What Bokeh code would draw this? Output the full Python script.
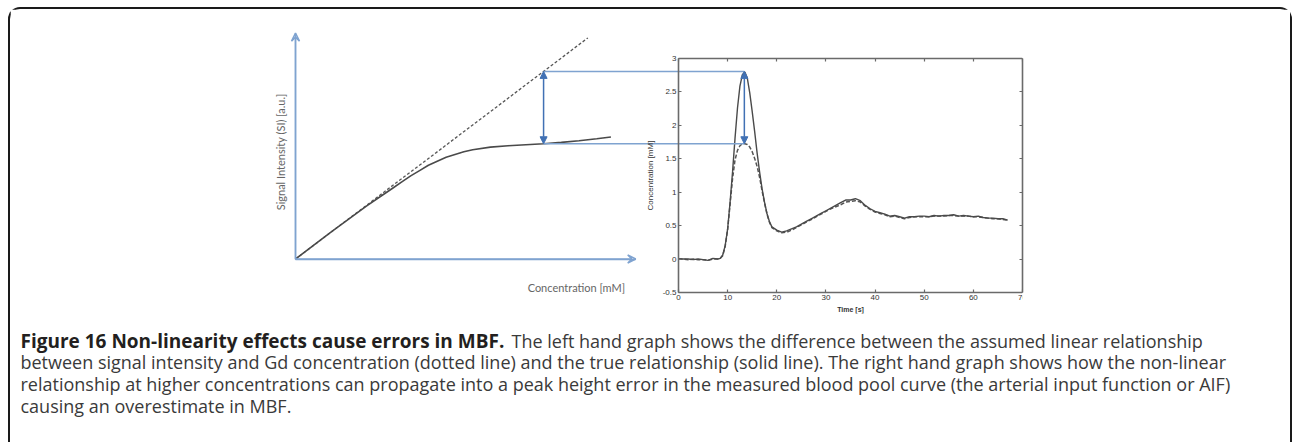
import math
from bokeh.plotting import figure
from bokeh.models import Range1d, LinearAxis, FixedTicker, Arrow, VeeHead, NormalHead
from bokeh.layouts import column
from bokeh.embed import file_html
from bokeh.resources import INLINE
from bokeh.core.properties import value

# ---------------- data ----------------
# Left schematic: signal intensity (in apparent-concentration units) vs true concentration
linear_conc = [0.0, 3.30]
linear_si = [0.0, 3.30]
true_conc = [0.0, 0.4, 0.8, 1.0, 1.1, 1.2, 1.3, 1.4, 1.5, 1.6, 1.7, 1.8, 1.9, 2.0,
             2.2, 2.4, 2.6, 2.8, 3.0, 3.2, 3.4, 3.56]
true_si = [0.0, 0.40, 0.79, 0.97, 1.06, 1.15, 1.24, 1.32, 1.40, 1.46, 1.52, 1.56, 1.60, 1.63,
           1.67, 1.69, 1.705, 1.72, 1.74, 1.765, 1.795, 1.82]

peak_true = 2.80   # true AIF peak [mM]
peak_meas = 1.72   # measured (saturated) AIF peak [mM]
peak_time = 13.4   # s

# Right graph: AIF, true (solid) and measured (dashed)
time_s = [0, 1, 2, 3, 4, 5, 6, 7, 8,
          8.5, 9, 9.5, 10, 10.5, 11, 11.5, 12, 12.5, 13, 13.5, 14, 14.5, 15, 15.5,
          16, 16.5, 17, 17.5, 18, 18.5, 19,
          20, 21, 22, 23, 24, 25, 26, 27, 28, 29, 30, 31, 32, 33, 34, 35, 36, 37, 38, 39,
          40, 41, 42, 43, 44, 45, 46, 47, 48, 49, 50, 51, 52, 53, 54, 55, 56, 57, 58, 59,
          60, 61, 62, 63, 64, 65, 66, 67]
conc_true_curve = [0.00, 0.00, 0.00, -0.01, 0.00, -0.01, -0.02, 0.01, 0.00,
                   0.01, 0.06, 0.20, 0.45, 0.85, 1.30, 1.80, 2.25, 2.58, 2.75, 2.79, 2.70, 2.48, 2.20, 1.90,
                   1.58, 1.30, 1.05, 0.85, 0.68, 0.56, 0.48,
                   0.43, 0.40, 0.42, 0.45, 0.48, 0.52, 0.56, 0.60, 0.64, 0.68, 0.72, 0.76, 0.80, 0.84, 0.88, 0.88, 0.90, 0.87, 0.80, 0.75,
                   0.71, 0.69, 0.67, 0.64, 0.65, 0.63, 0.61, 0.63, 0.63, 0.64, 0.64, 0.63, 0.65, 0.64, 0.65, 0.65, 0.66, 0.64, 0.65, 0.64,
                   0.63, 0.64, 0.62, 0.61, 0.61, 0.60, 0.60, 0.58]
conc_meas_curve = [0.00, 0.00, -0.01, 0.00, -0.01, -0.01, -0.02, 0.00, 0.00,
                   0.01, 0.05, 0.19, 0.44, 0.82, 1.20, 1.48, 1.62, 1.69, 1.72, 1.72, 1.71, 1.67, 1.60, 1.50,
                   1.38, 1.22, 1.02, 0.84, 0.67, 0.55, 0.47,
                   0.42, 0.39, 0.40, 0.43, 0.47, 0.51, 0.55, 0.59, 0.63, 0.67, 0.71, 0.75, 0.78, 0.81, 0.85, 0.86, 0.87, 0.85, 0.79, 0.74,
                   0.70, 0.68, 0.66, 0.63, 0.64, 0.62, 0.60, 0.62, 0.63, 0.63, 0.63, 0.63, 0.64, 0.64, 0.64, 0.65, 0.65, 0.64, 0.64, 0.64,
                   0.63, 0.63, 0.62, 0.61, 0.60, 0.60, 0.59, 0.58]

x_ticks = [0, 10, 20, 30, 40, 50, 60, 70]
x_tick_labels = ["0", "10", "20", "30", "40", "50", "60", "70"]
y_ticks = [-0.5, 0, 0.5, 1, 1.5, 2, 2.5, 3]
y_tick_labels = ["-0.5", "0", "0.5", "1", "1.5", "2", "2.5", "3"]

left_y_label = "Signal Intensity (SI) [a.u.]"
left_x_label = "Concentration [mM]"
right_y_label = "Concentration [mM]"
right_x_label = "Time [s]"

caption_bold = "Figure 16 Non-linearity effects cause errors in MBF."
caption_lines = [
    "The left hand graph shows the difference between the assumed linear relationship",
    "between signal intensity and Gd concentration (dotted line) and the true relationship (solid line). The right hand graph shows how the non-linear",
    "relationship at higher concentrations can propagate into a peak height error in the measured blood pool curve (the arterial input function or AIF)",
    "causing an overestimate in MBF.",
]

# ---------------- styles / layout ----------------
BLUE = "#7fa3d0"
BLUE_DARK = "#4171b4"
CURVE = "#4a4a4a"
BOX = "#6a6a6a"
TICK_FONT = "Liberation Sans"
SCHEME_FONT = "Lato"
CAP_FONT = "Open Sans"

PAGE_X0, PAGE_Y0 = 10, 9            # content origin inside the rounded box
CONTENT_W, CONTENT_H = 1280, 433
FRAME_L, FRAME_R, FRAME_T, FRAME_B = 262, 1022, 24, 313
BOX_L = 678                          # t = 0 of right graph
Y0_PX, PX_PER_Y = 258.5, 67.0        # y = 0 line and scale (shared by both graphs)
C0_PX, PX_PER_C = 295.0, 88.6        # concentration origin of left graph

ML = FRAME_L - PAGE_X0
MR = PAGE_X0 + CONTENT_W - FRAME_R
MT = FRAME_T - PAGE_Y0
MB = 12
FW, FH = FRAME_R - FRAME_L, FRAME_B - FRAME_T
MAIN_H = MT + FH + MB
CAP_H = CONTENT_H - MAIN_H

t_per_px = (x_ticks[-1] - x_ticks[0]) / (FRAME_R - BOX_L)
T_RANGE = (-(BOX_L - FRAME_L) * t_per_px, x_ticks[-1])
C_RANGE = ((FRAME_L - C0_PX) / PX_PER_C, (FRAME_R - C0_PX) / PX_PER_C)
Y_RANGE = ((Y0_PX - FRAME_B) / PX_PER_Y, (Y0_PX - FRAME_T) / PX_PER_Y)
SI_AXIS_END = 3.37
C_AXIS_END = 3.84

p = figure(frame_width=FW, frame_height=FH, x_range=Range1d(*T_RANGE), y_range=Range1d(*Y_RANGE),
           x_axis_type=None, y_axis_type=None, output_backend="svg", toolbar_location=None,
           min_border_left=ML, min_border_right=MR, min_border_top=MT, min_border_bottom=MB,
           outline_line_color=None, background_fill_color="white", border_fill_color="white")
p.extra_x_ranges = {"conc": Range1d(*C_RANGE)}

# ---- left schematic axes (blue arrows) ----
no_ticks = dict(ticker=FixedTicker(ticks=[]), axis_line_color=BLUE, axis_line_width=1.5,
                major_tick_line_color=None, minor_tick_line_color=None,
                major_label_standoff=0)
si_axis = LinearAxis(x_range_name="conc", fixed_location=0, bounds=(0, SI_AXIS_END), **no_ticks)
p.add_layout(si_axis, "left")
c_axis = LinearAxis(x_range_name="conc", fixed_location=0, bounds=(0, C_AXIS_END), **no_ticks)
p.add_layout(c_axis, "above")

vee = dict(size=8, line_color=BLUE, line_width=1.5, fill_color=None)
p.add_layout(Arrow(x_range_name="conc", x_start=0, y_start=0, x_end=0, y_end=SI_AXIS_END,
                   line_color=BLUE, line_width=1.5, end=VeeHead(**vee)))
p.add_layout(Arrow(x_range_name="conc", x_start=0, y_start=0, x_end=C_AXIS_END, y_end=0,
                   line_color=BLUE, line_width=1.5, end=VeeHead(**vee)))

p.text(x=[-15 / PX_PER_C], y=[1.60], text=[left_y_label], angle=math.pi / 2,
       x_range_name="conc", text_align="center", text_baseline="middle",
       text_font=value(SCHEME_FONT), text_font_size="11px", text_color="#666666")
p.text(x=[3.72], y=[-0.43], text=[left_x_label], x_range_name="conc",
       text_align="right", text_baseline="middle", text_font=value(SCHEME_FONT),
       text_font_size="11px", text_color="#666666")

p.line(linear_conc, linear_si, x_range_name="conc", line_color="#555555",
       line_width=1.3, line_dash="3 2")
p.line(true_conc, true_si, x_range_name="conc", line_color=CURVE, line_width=1.6)

# ---- right graph: matlab style box ----
lbl_y = {float(v): s for v, s in zip(y_ticks, y_tick_labels)}
lbl_x = {float(v): s for v, s in zip(x_ticks, x_tick_labels)}

box_common = dict(axis_line_color=BOX, axis_line_width=1.6, major_tick_line_color=BOX,
                  major_tick_line_width=1.2, major_tick_in=3, major_tick_out=0,
                  minor_tick_line_color=None)
tick_text = dict(major_label_text_font=TICK_FONT, major_label_text_font_size="8px",
                 major_label_text_color="#333333", major_label_standoff=2)

cy_axis = LinearAxis(fixed_location=0, bounds=(y_ticks[0], y_ticks[-1]),
                     ticker=FixedTicker(ticks=y_ticks), major_label_overrides=lbl_y,
                     axis_label=right_y_label, axis_label_standoff=5,
                     axis_label_text_font=TICK_FONT, axis_label_text_font_size="8px",
                     axis_label_text_font_style="normal", axis_label_text_color="#333333",
                     **tick_text, **box_common)
p.add_layout(cy_axis, "left")

t_axis = LinearAxis(fixed_location=y_ticks[0], bounds=(x_ticks[0], x_ticks[-1]),
                    ticker=FixedTicker(ticks=x_ticks), major_label_overrides=lbl_x,
                    **tick_text, **box_common)
p.add_layout(t_axis, "below")

top_axis = LinearAxis(fixed_location=y_ticks[-1], bounds=(x_ticks[0], x_ticks[-1]),
                      ticker=FixedTicker(ticks=x_ticks), major_label_text_color=None,
                      major_label_text_font_size="8px", major_label_standoff=0, **box_common)
p.add_layout(top_axis, "above")

right_axis = LinearAxis(bounds=(y_ticks[0], y_ticks[-1]), ticker=FixedTicker(ticks=y_ticks),
                        major_label_text_color=None, major_label_text_font_size="8px",
                        major_label_standoff=0, **box_common)
p.add_layout(right_axis, "right")

p.text(x=[(x_ticks[0] + x_ticks[-1]) / 2], y=[y_ticks[0] - 17 / PX_PER_Y], text=[right_x_label],
       text_align="center", text_baseline="middle", text_font=value(TICK_FONT),
       text_font_size="7px", text_font_style="bold", text_color="#333333")

p.line(time_s, conc_meas_curve, line_color="#555555", line_width=1.5, line_dash="4 2")
p.line(time_s, conc_true_curve, line_color=CURVE, line_width=1.4)

# ---- connecting lines and error arrows ----
def time_to_conc(t):
    f = (t - T_RANGE[0]) / (T_RANGE[1] - T_RANGE[0])
    return C_RANGE[0] + f * (C_RANGE[1] - C_RANGE[0])

x_peak_c = time_to_conc(peak_time)
p.segment(x0=[peak_true, peak_true], y0=[peak_true, peak_meas],
          x1=[x_peak_c, x_peak_c], y1=[peak_true, peak_meas],
          x_range_name="conc", line_color=BLUE, line_width=1.5)

for xr, xv in (("conc", peak_true), ("default", peak_time)):
    p.add_layout(Arrow(x_range_name=xr, x_start=xv, y_start=peak_meas, x_end=xv, y_end=peak_true,
                       line_color=BLUE_DARK, line_width=1.5,
                       start=NormalHead(size=7, fill_color=BLUE_DARK, line_color=BLUE_DARK),
                       end=NormalHead(size=7, fill_color=BLUE_DARK, line_color=BLUE_DARK)))

# ---------------- caption ----------------
cap = figure(frame_width=CONTENT_W, frame_height=CAP_H, x_range=Range1d(0, CONTENT_W),
             y_range=Range1d(CAP_H, 0), x_axis_type=None, y_axis_type=None,
             output_backend="svg", toolbar_location=None, min_border=0,
             outline_line_color=None, background_fill_color="white", border_fill_color="white")
for fig in (p, cap):
    try:
        fig.frame_align = False
    except Exception:
        pass

CAP_X = 20 - PAGE_X0
CAP_NORMAL_X = 511 - PAGE_X0
LINE_Y = [340 - PAGE_Y0 - MAIN_H + i * 21.8 for i in range(4)]
cap.text(x=[CAP_X], y=[LINE_Y[0]], text=[caption_bold], text_font=value(CAP_FONT),
         text_font_size="19px", text_font_style="bold", text_color="#231f20",
         text_baseline="middle")
cap.text(x=[CAP_NORMAL_X] + [CAP_X] * 3, y=LINE_Y, text=caption_lines,
         text_font=value(CAP_FONT), text_font_size="18px", text_color="#3a3a3a",
         text_baseline="middle")

layout = column(p, cap, styles={"margin-left": "8px", "margin-top": "7px",
                                "border-top": "2px solid #1a1a1a", "border-left": "2px solid #1a1a1a",
                                "border-right": "2px solid #1a1a1a",
                                "border-radius": "12px 12px 0 0"})

open("out.html", "w").write(file_html(layout, INLINE))
